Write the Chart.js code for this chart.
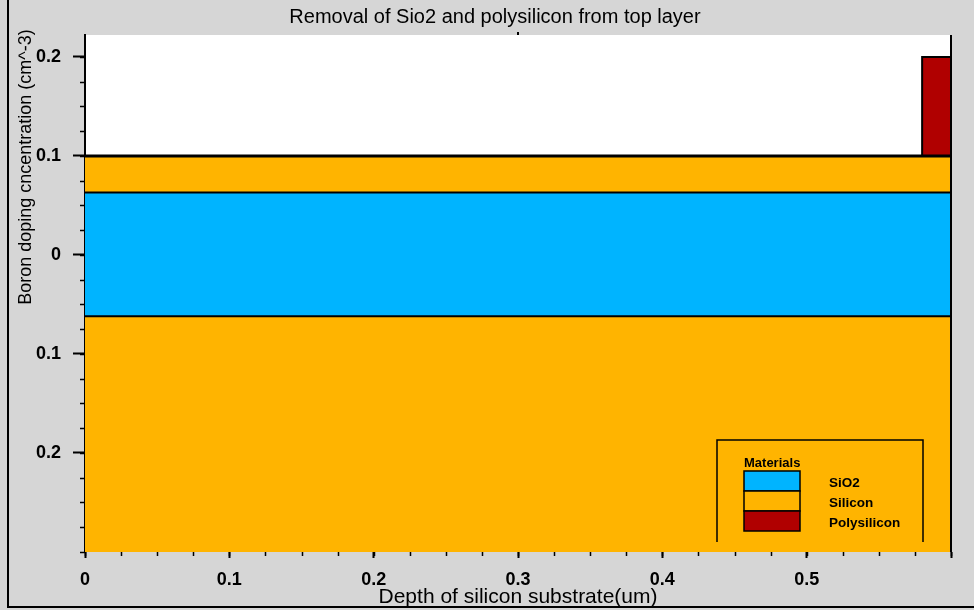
<!DOCTYPE html>
<html lang="en">
<head>
  <meta charset="UTF-8" />
  <title>Removal of Sio2 and polysilicon from top layer</title>
  <script src="https://cdn.jsdelivr.net/npm/chart.js"></script>
  <style>
    html, body { margin: 0; padding: 0; background: #d6d6d6; }
    #wrap { width: 974px; height: 610px; }
  </style>
</head>
<body>
  <div id="wrap"><canvas id="layerChart" width="974" height="610"></canvas></div>

  <script>
    // layer stack, values
    const layerMaterial = ['Silicon', 'SiO2', 'Silicon'];
    const layerTop = [0.1, 0.063, -0.062];
    const layerBottom = [0.063, -0.062, -0.3];
    const depthRange = [0, 0.6];

    // polysilicon block at the right edge
    const polyX = [0.58, 0.58, 0.6, 0.6];
    const polyY = [0.1, 0.2, 0.2, 0.1];

    const xTickValues = [0, 0.1, 0.2, 0.3, 0.4, 0.5, 0.6];
    const xTickLabels = ['0', '0.1', '0.2', '0.3', '0.4', '0.5', ''];
    const yTickValues = [-0.2, -0.1, 0, 0.1, 0.2];
    const yTickLabels = ['0.2', '0.1', '0', '0.1', '0.2'];
    const minorStep = 0.025;

    const materials = ['SiO2', 'Silicon', 'Polysilicon'];
    const materialColor = { SiO2: '#00b4ff', Silicon: '#ffb400', Polysilicon: '#b00000' };

    const FONT = '"Liberation Sans", Arial, sans-serif';

    const datasets = layerMaterial.map((m, i) => ({
      label: m,
      data: depthRange.map(x => ({ x: x, y: layerTop[i] })),
      borderColor: '#000',
      borderWidth: i === 0 ? 3 : 2,
      backgroundColor: materialColor[m],
      fill: { value: layerBottom[i] },
      pointRadius: 0,
      tension: 0
    }));
    datasets.push({
      label: 'Polysilicon',
      data: polyX.map((x, i) => ({ x: x, y: polyY[i] })),
      borderColor: '#000',
      borderWidth: 2,
      backgroundColor: materialColor.Polysilicon,
      fill: { value: 0.1 },
      pointRadius: 0,
      tension: 0
    });

    const decor = {
      id: 'decor',
      beforeDraw(chart) {
        const { ctx, chartArea: a } = chart;
        ctx.save();
        ctx.fillStyle = '#d6d6d6';
        ctx.fillRect(0, 0, chart.width, chart.height);
        ctx.fillStyle = '#fff';
        ctx.fillRect(a.left, a.top, a.right - a.left, a.bottom - a.top);
        ctx.restore();
      },
      afterDraw(chart) {
        const { ctx, chartArea: a } = chart;
        const xs = chart.scales.x, ys = chart.scales.y;
        ctx.save();

        // outer frame
        ctx.strokeStyle = '#000';
        ctx.lineWidth = 2;
        ctx.beginPath();
        ctx.moveTo(8, 0); ctx.lineTo(8, 607); ctx.lineTo(974, 607);
        ctx.stroke();

        // right edge of plot
        ctx.beginPath();
        ctx.moveTo(a.right, a.top); ctx.lineTo(a.right, a.bottom);
        ctx.stroke();

        // minor ticks
        ctx.lineWidth = 1.5;
        ctx.beginPath();
        for (let v = -0.3; v <= 0.2001; v += minorStep) {
          const py = Math.round(ys.getPixelForValue(v)) + 0.5;
          ctx.moveTo(a.left - 5, py); ctx.lineTo(a.left, py);
        }
        for (let v = 0; v <= 0.6001; v += minorStep) {
          const px = Math.round(xs.getPixelForValue(v)) + 0.5;
          ctx.moveTo(px, a.bottom); ctx.lineTo(px, a.bottom + 4);
        }
        ctx.stroke();

        // small tick at top centre
        ctx.lineWidth = 2;
        ctx.beginPath();
        const mid = xs.getPixelForValue(0.3);
        ctx.moveTo(mid, a.top - 3); ctx.lineTo(mid, a.top);
        ctx.stroke();

        // titles
        ctx.fillStyle = '#000';
        ctx.textAlign = 'center';
        ctx.textBaseline = 'middle';
        ctx.font = '20px ' + FONT;
        ctx.fillText('Removal of Sio2 and polysilicon from top layer', 495, 17);
        ctx.font = '21px ' + FONT;
        ctx.fillText('Depth of silicon substrate(um)', 518, 597);
        ctx.save();
        ctx.translate(26, 167);
        ctx.rotate(-Math.PI / 2);
        ctx.font = '18px ' + FONT;
        ctx.fillText('Boron doping cncentration (cm^-3)', 0, 0);
        ctx.restore();

        // legend box
        ctx.lineWidth = 1.5;
        ctx.beginPath();
        ctx.moveTo(717, 542); ctx.lineTo(717, 440); ctx.lineTo(923, 440); ctx.lineTo(923, 542);
        ctx.stroke();
        ctx.textAlign = 'left';
        ctx.font = 'bold 13px ' + FONT;
        ctx.fillText('Materials', 744, 463);
        materials.forEach((m, i) => {
          const y0 = 471 + i * 20;
          ctx.fillStyle = materialColor[m];
          ctx.fillRect(744, y0, 56, 20);
          ctx.strokeStyle = '#000';
          ctx.lineWidth = 1.5;
          ctx.strokeRect(744, y0, 56, 20);
          ctx.fillStyle = '#000';
          ctx.font = 'bold 13.5px ' + FONT;
          ctx.fillText(m, 829, y0 + 12);
        });

        ctx.restore();
      }
    };

    new Chart(document.getElementById('layerChart'), {
      type: 'line',
      data: { datasets: datasets },
      options: {
        responsive: false,
        animation: false,
        events: [],
        layout: { padding: { left: 0, right: 23, top: 35, bottom: 0 } },
        plugins: {
          legend: { display: false },
          title: { display: false },
          tooltip: { enabled: false },
          filler: { drawTime: 'beforeDatasetsDraw' }
        },
        scales: {
          x: {
            type: 'linear',
            min: depthRange[0],
            max: depthRange[1],
            afterBuildTicks: s => { s.ticks = xTickValues.map(v => ({ value: v })); },
            afterFit: s => { s.height = 58; },
            ticks: {
              color: '#000',
              font: { family: FONT, size: 18, weight: 'bold' },
              padding: 11,
              maxRotation: 0,
              autoSkip: false,
              callback: (v, i) => xTickLabels[i]
            },
            grid: { drawOnChartArea: false, color: '#000', tickLength: 6, tickWidth: 2 },
            border: { display: false }
          },
          y: {
            type: 'linear',
            min: -0.3,
            max: 0.2222,
            afterBuildTicks: s => { s.ticks = yTickValues.map(v => ({ value: v })); },
            afterFit: s => { s.width = 85; },
            ticks: {
              color: '#000',
              font: { family: FONT, size: 18, weight: 'bold' },
              padding: 12,
              autoSkip: false,
              callback: (v, i) => yTickLabels[i]
            },
            grid: { drawOnChartArea: false, color: '#000', tickLength: 12, tickWidth: 2 },
            border: { display: true, color: '#000', width: 2 }
          }
        }
      },
      plugins: [decor]
    });
  </script>
</body>
</html>
